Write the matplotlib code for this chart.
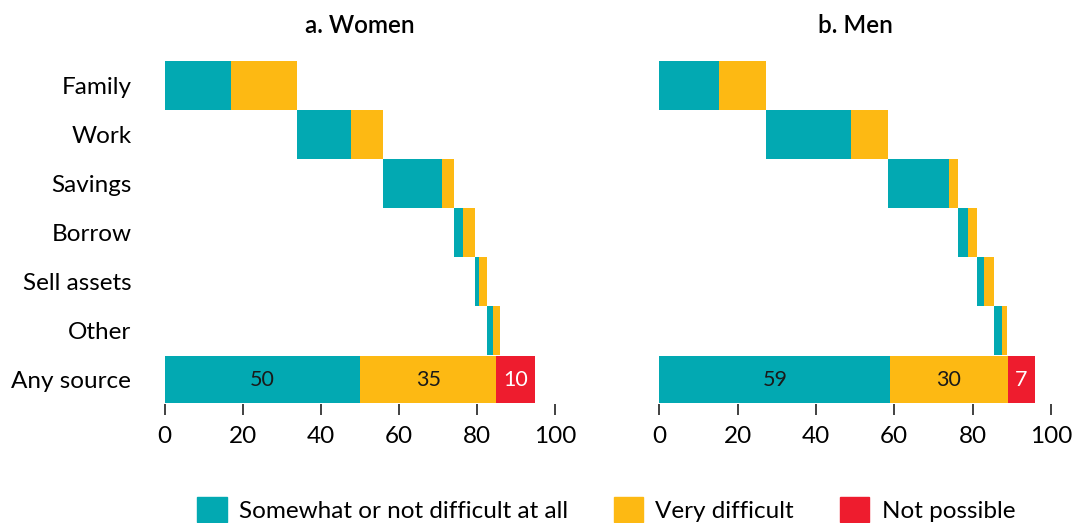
import numpy as np
import matplotlib.pyplot as plt

plt.rcParams['font.family'] = ['Lato', 'DejaVu Sans']

# sources of emergency funds, top to bottom
sources = ["Family", "Work", "Savings", "Borrow", "Sell assets", "Other"]

# women: share by source (percent)
women_ok = [17.0, 13.7, 15.0, 2.3, 1.1, 1.4]
women_hard = [17.0, 8.3, 3.1, 3.0, 2.2, 1.7]
women_total = [50, 35, 10]

# men
men_ok = [15.3, 21.8, 15.4, 2.5, 1.7, 2.1]
men_hard = [11.9, 9.5, 2.5, 2.3, 2.5, 1.2]
men_total = [59, 30, 7]

teal = '#02A9B2'
yellow = '#FDB913'
red = '#EE1C2E'

fig = plt.figure(figsize=(10.73, 5.23), dpi=100)
ax1 = fig.add_axes([0.1535, 0.2275, 0.3637, 0.6559])
ax2 = fig.add_axes([0.6145, 0.2275, 0.3648, 0.6559])


def draw(ax, ok, hard, total, title, show_labels):
    left = 0
    for i in range(len(ok)):
        ax.barh(i, ok[i], left=left, height=1.0, color=teal)
        left += ok[i]
        ax.barh(i, hard[i], left=left, height=1.0, color=yellow)
        left += hard[i]
    # any source row
    y = len(ok)
    cols = [teal, yellow, red]
    txt_cols = ['#1a1a1a', '#1a1a1a', 'white']
    left = 0
    for v, c, tc in zip(total, cols, txt_cols):
        ax.barh(y, v, left=left, height=0.96, color=c)
        ax.text(left + v / 2, y, str(v), ha='center', va='center',
                fontsize=15.5, color=tc)
        left += v
    ax.set_xlim(0, 100)
    ax.set_ylim(len(ok) + 0.5, -0.5)
    ax.set_xticks([0, 20, 40, 60, 80, 100])
    ax.tick_params(axis='x', length=8, width=1.3, color='#333333',
                   labelsize=17.5, pad=8)
    ax.set_yticks(range(len(ok) + 1))
    if show_labels:
        ax.set_yticklabels(sources + ["Any source"], fontsize=17.5)
    else:
        ax.set_yticklabels([])
    ax.tick_params(axis='y', length=0, pad=24)
    for s in ax.spines.values():
        s.set_visible(False)
    ax.set_title(title, fontsize=17.5, fontweight='semibold', pad=20)


draw(ax1, women_ok, women_hard, women_total, "a. Women", True)
draw(ax2, men_ok, men_hard, men_total, "b. Men", False)

handles = [plt.Rectangle((0, 0), 1, 1, color=c) for c in [teal, yellow, red]]
fig.legend(handles, ["Somewhat or not difficult at all", "Very difficult", "Not possible"],
           loc='lower center', bbox_to_anchor=(0.565, -0.04), ncol=3, frameon=False,
           fontsize=17.5, handlelength=1.2, handleheight=1.2, columnspacing=1.9,
           handletextpad=0.5)

fig.savefig('out.png', dpi=100)
